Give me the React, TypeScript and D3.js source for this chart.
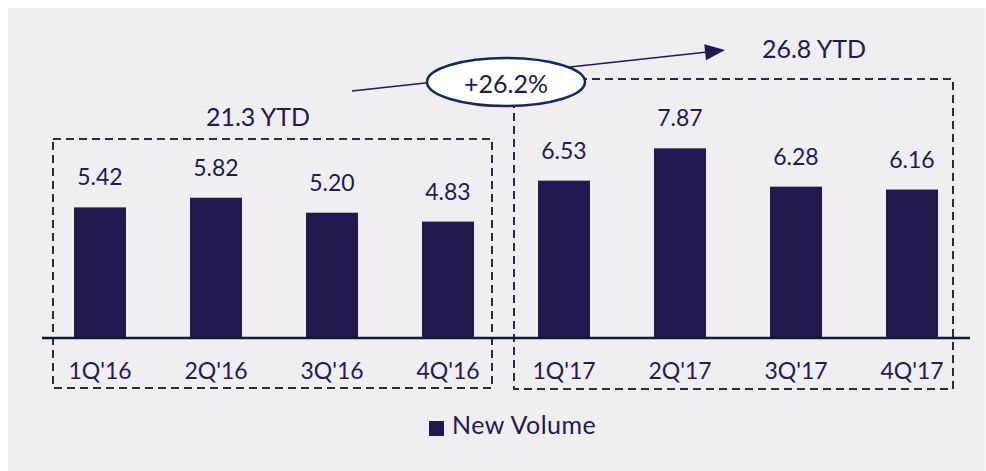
import React from "react";
import * as d3 from "d3";

const categories = ["1Q'16", "2Q'16", "3Q'16", "4Q'16", "1Q'17", "2Q'17", "3Q'17", "4Q'17"];
const newVolume = [5.42, 5.82, 5.2, 4.83, 6.53, 7.87, 6.28, 6.16];
const valueLabels = ["5.42", "5.82", "5.20", "4.83", "6.53", "7.87", "6.28", "6.16"];
const ytdLabels = ["21.3 YTD", "26.8 YTD"];
const growthLabel = "+26.2%";
const seriesName = "New Volume";

const W = 986;
const H = 471;
const FONT = "Lato, 'Open Sans', sans-serif";
const BAR = "#221a4f";
const TEXT = "#231a50";

export default function App() {
  const x = d3.scaleBand<string>().domain(categories).range([42, 970]).paddingInner(0.552).paddingOuter(0.276);
  const y = d3.scaleLinear().domain([0, 10]).range([338, 97]);
  const bw = x.bandwidth();

  const leftBox = { x0: 53, y0: 139, x1: 492, y1: 388 };
  const rightBox = { x0: 514, y0: 79, x1: 953, y1: 389 };

  const arrowStart: [number, number] = [352, 91];
  const arrowEnd: [number, number] = [725, 50];
  const ang = Math.atan2(arrowEnd[1] - arrowStart[1], arrowEnd[0] - arrowStart[0]);
  const hl = 20, hw = 8;
  const bx = arrowEnd[0] - hl * Math.cos(ang);
  const by = arrowEnd[1] - hl * Math.sin(ang);
  const head = [
    [arrowEnd[0], arrowEnd[1]],
    [bx + hw * Math.sin(ang), by - hw * Math.cos(ang)],
    [bx - hw * Math.sin(ang), by + hw * Math.cos(ang)],
  ];

  return (
    <svg width={W} height={H} style={{ position: "absolute", left: 0, top: 0 }} fontFamily={FONT}>
      <rect x={8} y={8} width={977} height={463} fill="#f0eef1" />
      {[leftBox, rightBox].map((b, i) => (
        <rect key={i} x={b.x0} y={b.y0} width={b.x1 - b.x0} height={b.y1 - b.y0} fill="none" stroke="#2b2a45" strokeWidth={2} strokeDasharray="8,5" />
      ))}
      {categories.map((c, i) => (
        <rect key={c} x={x(c)} y={y(newVolume[i])} width={bw} height={y(0) - y(newVolume[i])} fill={BAR} />
      ))}
      {categories.map((c, i) => (
        <text key={c} x={(x(c) as number) + bw / 2} y={y(newVolume[i]) - 22} textAnchor="middle" fontSize={23} fill={TEXT}>
          {valueLabels[i]}
        </text>
      ))}
      <line x1={42} x2={970} y1={y(0)} y2={y(0)} stroke="#0e1a33" strokeWidth={2.5} />
      {categories.map((c) => (
        <text key={c} x={(x(c) as number) + bw / 2} y={379} textAnchor="middle" fontSize={23} fill={TEXT}>
          {c}
        </text>
      ))}
      <text x={258} y={126} textAnchor="middle" fontSize={25} fill={TEXT}>{ytdLabels[0]}</text>
      <text x={814} y={58} textAnchor="middle" fontSize={25} fill={TEXT}>{ytdLabels[1]}</text>
      <line x1={arrowStart[0]} y1={arrowStart[1]} x2={bx} y2={by} stroke={TEXT} strokeWidth={1.5} />
      <polygon points={head.map((p) => p.join(",")).join(" ")} fill={TEXT} />
      <ellipse cx={506} cy={82} rx={79} ry={24} fill="#ffffff" stroke="#15275e" strokeWidth={2.5} />
      <text x={506} y={93} textAnchor="middle" fontSize={25} fill={TEXT}>{growthLabel}</text>
      <rect x={429} y={421} width={15} height={15} fill={BAR} />
      <text x={452} y={434} fontSize={25} fill={TEXT} letterSpacing={0.5}>{seriesName}</text>
    </svg>
  );
}
